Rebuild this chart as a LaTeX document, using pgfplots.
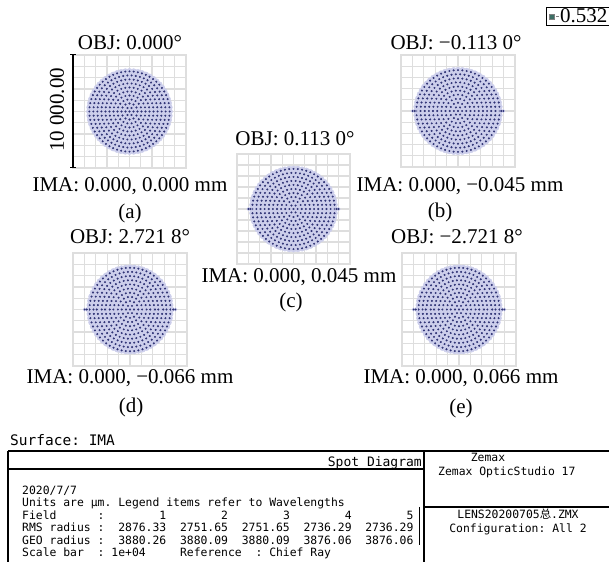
\documentclass[border=0pt]{standalone}
\usepackage{pgfplots}
\pgfplotsset{compat=1.18}
\usepackage{pgfplotstable}
\usepackage{fontspec}
\setmainfont{Liberation Serif}
\setmonofont{DejaVu Sans Mono}
\newfontfamily\cjk{Noto Sans CJK SC}
\definecolor{gridc}{RGB}{222,222,222}
\definecolor{fillc}{RGB}{204,206,235}
\definecolor{dotc}{RGB}{48,52,118}
\definecolor{legc}{RGB}{60,110,100}

% hexapolar ray pattern: ring k, ray index m (angle = m*60/k degrees)
\pgfplotstableread[row sep=\\]{
k m\\
0 0\\
1 0\\ 1 1\\ 1 2\\ 1 3\\ 1 4\\ 1 5\\
2 0\\ 2 1\\ 2 2\\ 2 3\\ 2 4\\ 2 5\\ 2 6\\ 2 7\\ 2 8\\ 2 9\\ 2 10\\ 2 11\\
3 0\\ 3 1\\ 3 2\\ 3 3\\ 3 4\\ 3 5\\ 3 6\\ 3 7\\ 3 8\\ 3 9\\ 3 10\\ 3 11\\ 3 12\\ 3 13\\ 3 14\\ 3 15\\ 3 16\\ 3 17\\
4 0\\ 4 1\\ 4 2\\ 4 3\\ 4 4\\ 4 5\\ 4 6\\ 4 7\\ 4 8\\ 4 9\\ 4 10\\ 4 11\\ 4 12\\ 4 13\\ 4 14\\ 4 15\\ 4 16\\ 4 17\\ 4 18\\ 4 19\\ 4 20\\ 4 21\\ 4 22\\ 4 23\\
5 0\\ 5 1\\ 5 2\\ 5 3\\ 5 4\\ 5 5\\ 5 6\\ 5 7\\ 5 8\\ 5 9\\ 5 10\\ 5 11\\ 5 12\\ 5 13\\ 5 14\\ 5 15\\ 5 16\\ 5 17\\ 5 18\\ 5 19\\ 5 20\\ 5 21\\ 5 22\\ 5 23\\ 5 24\\ 5 25\\ 5 26\\ 5 27\\ 5 28\\ 5 29\\
6 0\\ 6 1\\ 6 2\\ 6 3\\ 6 4\\ 6 5\\ 6 6\\ 6 7\\ 6 8\\ 6 9\\ 6 10\\ 6 11\\ 6 12\\ 6 13\\ 6 14\\ 6 15\\ 6 16\\ 6 17\\ 6 18\\ 6 19\\ 6 20\\ 6 21\\ 6 22\\ 6 23\\ 6 24\\ 6 25\\ 6 26\\ 6 27\\ 6 28\\ 6 29\\ 6 30\\ 6 31\\ 6 32\\ 6 33\\ 6 34\\ 6 35\\
7 0\\ 7 1\\ 7 2\\ 7 3\\ 7 4\\ 7 5\\ 7 6\\ 7 7\\ 7 8\\ 7 9\\ 7 10\\ 7 11\\ 7 12\\ 7 13\\ 7 14\\ 7 15\\ 7 16\\ 7 17\\ 7 18\\ 7 19\\ 7 20\\ 7 21\\ 7 22\\ 7 23\\ 7 24\\ 7 25\\ 7 26\\ 7 27\\ 7 28\\ 7 29\\ 7 30\\ 7 31\\ 7 32\\ 7 33\\ 7 34\\ 7 35\\ 7 36\\ 7 37\\ 7 38\\ 7 39\\ 7 40\\ 7 41\\
8 0\\ 8 1\\ 8 2\\ 8 3\\ 8 4\\ 8 5\\ 8 6\\ 8 7\\ 8 8\\ 8 9\\ 8 10\\ 8 11\\ 8 12\\ 8 13\\ 8 14\\ 8 15\\ 8 16\\ 8 17\\ 8 18\\ 8 19\\ 8 20\\ 8 21\\ 8 22\\ 8 23\\ 8 24\\ 8 25\\ 8 26\\ 8 27\\ 8 28\\ 8 29\\ 8 30\\ 8 31\\ 8 32\\ 8 33\\ 8 34\\ 8 35\\ 8 36\\ 8 37\\ 8 38\\ 8 39\\ 8 40\\ 8 41\\ 8 42\\ 8 43\\ 8 44\\ 8 45\\ 8 46\\ 8 47\\
9 0\\ 9 1\\ 9 2\\ 9 3\\ 9 4\\ 9 5\\ 9 6\\ 9 7\\ 9 8\\ 9 9\\ 9 10\\ 9 11\\ 9 12\\ 9 13\\ 9 14\\ 9 15\\ 9 16\\ 9 17\\ 9 18\\ 9 19\\ 9 20\\ 9 21\\ 9 22\\ 9 23\\ 9 24\\ 9 25\\ 9 26\\ 9 27\\ 9 28\\ 9 29\\ 9 30\\ 9 31\\ 9 32\\ 9 33\\ 9 34\\ 9 35\\ 9 36\\ 9 37\\ 9 38\\ 9 39\\ 9 40\\ 9 41\\ 9 42\\ 9 43\\ 9 44\\ 9 45\\ 9 46\\ 9 47\\ 9 48\\ 9 49\\ 9 50\\ 9 51\\ 9 52\\ 9 53\\
10 0\\ 10 1\\ 10 2\\ 10 3\\ 10 4\\ 10 5\\ 10 6\\ 10 7\\ 10 8\\ 10 9\\ 10 10\\ 10 11\\ 10 12\\ 10 13\\ 10 14\\ 10 15\\ 10 16\\ 10 17\\ 10 18\\ 10 19\\ 10 20\\ 10 21\\ 10 22\\ 10 23\\ 10 24\\ 10 25\\ 10 26\\ 10 27\\ 10 28\\ 10 29\\
10 30\\ 10 31\\ 10 32\\ 10 33\\ 10 34\\ 10 35\\ 10 36\\ 10 37\\ 10 38\\ 10 39\\ 10 40\\ 10 41\\ 10 42\\ 10 43\\ 10 44\\ 10 45\\ 10 46\\ 10 47\\ 10 48\\ 10 49\\ 10 50\\ 10 51\\ 10 52\\ 10 53\\ 10 54\\ 10 55\\ 10 56\\ 10 57\\ 10 58\\ 10 59\\
}\spot

% the slightly protruding middle row seen in the off-axis fields (x in axis units)
\pgfplotstableread[row sep=\\]{
x y\\
-3.98 0\\ -3.8 0\\ -2.92 0\\ -2.19 0\\ -1.46 0\\ -0.73 0\\
0.73 0\\ 1.46 0\\ 2.19 0\\ 2.92 0\\ 3.8 0\\ 3.98 0\\
}\spotmid

\pgfplotsset{
  spotax/.style={scale only axis, xmin=-5, xmax=5, ymin=-5, ymax=5,
    xtick={-5,...,5}, ytick={-5,...,5}, xticklabel=\empty, yticklabel=\empty,
    major tick length=0pt, grid=major,
    grid style={draw=gridc, line width=1.3bp},
    axis line style={draw=gridc, line width=1.3bp}, clip=false, anchor=south west},
  fillm/.style={only marks, mark=*, mark size=3bp, color=fillc, forget plot},
  dotm/.style={only marks, mark=*, mark size=0.8bp, color=dotc, forget plot},
}
\newcommand\spotplots[2]{%
  \addplot[fillm] table[x expr={\thisrow{k}*#1*cos(\thisrow{m}*60/max(\thisrow{k},1))}, y expr={\thisrow{k}*#2*sin(\thisrow{m}*60/max(\thisrow{k},1))}] {\spot};
  \addplot[dotm] table[x expr={\thisrow{k}*#1*cos(\thisrow{m}*60/max(\thisrow{k},1))}, y expr={\thisrow{k}*#2*sin(\thisrow{m}*60/max(\thisrow{k},1))}] {\spot};}
\newcommand\midplots{%
  \addplot[fillm, mark size=1.8bp] table {\spotmid};
  \addplot[dotm] table {\spotmid};}

\begin{document}
\begin{tikzpicture}[
  lab/.style={font=\fontsize{21bp}{25bp}\selectfont, anchor=base, inner sep=0pt},
  mono/.style={font=\ttfamily\fontsize{11.4bp}{13bp}\selectfont, anchor=base west, inner sep=0pt}]
\path[use as bounding box] (0,0) rectangle (609bp,562bp);

% (a)
\begin{axis}[spotax, at={(73bp,394bp)}, width=113bp, height=113bp]
\spotplots{0.355}{0.355}
\end{axis}
% (b)
\begin{axis}[spotax, at={(401bp,395bp)}, width=114bp, height=112bp,
  legend style={at={(1.27,1.4286)}, anchor=north west, draw=black, line width=0.6bp,
    font=\fontsize{21bp}{21bp}\selectfont, inner xsep=3bp, inner ysep=1bp,
    nodes={inner sep=0.5bp}}]
\spotplots{0.365}{0.365}
\midplots
\addlegendimage{legend image code/.code={\draw[fill=legc, draw=gray, line width=0.4bp] (0bp,-2.5bp) rectangle (5bp,2.5bp); \draw[gray, line width=0.6bp] (7bp,0bp) -- (10bp,0bp);}}
\addlegendentry{0.532}
\end{axis}
% (c)
\begin{axis}[spotax, at={(237bp,298bp)}, width=113bp, height=110bp]
\spotplots{0.365}{0.365}
\midplots
\end{axis}
% (d)
\begin{axis}[spotax, at={(73bp,196bp)}, width=114bp, height=113bp]
\spotplots{0.355}{0.37}
\midplots
\end{axis}
% (e)
\begin{axis}[spotax, at={(402bp,196bp)}, width=114bp, height=113bp]
\spotplots{0.355}{0.37}
\midplots
\end{axis}

% scale bar
\draw[line width=1.4bp] (73bp,394bp) -- (73bp,507bp);
\draw[line width=1bp] (70bp,507bp) -- (76bp,507bp);
\draw[line width=1bp] (70bp,394bp) -- (76bp,394bp);
\node[rotate=90, font=\fontsize{21bp}{25bp}\selectfont, inner sep=0pt] at (57bp,452bp) {10 000.00};

% labels
\node[lab] at (130bp,512bp) {OBJ: 0.000°};
\node[lab] at (456bp,512bp) {OBJ: −0.113 0°};
\node[lab] at (295bp,416bp) {OBJ: 0.113 0°};
\node[lab] at (130bp,318bp) {OBJ: 2.721 8°};
\node[lab] at (457bp,318bp) {OBJ: −2.721 8°};
\node[lab] at (130bp,370bp) {IMA: 0.000, 0.000 mm};
\node[lab] at (460bp,370bp) {IMA: 0.000, −0.045 mm};
\node[lab] at (299bp,279bp) {IMA: 0.000, 0.045 mm};
\node[lab] at (130bp,178bp) {IMA: 0.000, −0.066 mm};
\node[lab] at (461bp,178bp) {IMA: 0.000, 0.066 mm};
\node[lab] at (130bp,343.5bp) {(a)};
\node[lab] at (440bp,344.5bp) {(b)};
\node[lab] at (291bp,254.5bp) {(c)};
\node[lab] at (131bp,149.5bp) {(d)};
\node[lab] at (461bp,148.5bp) {(e)};

% table frame
\draw[line width=2bp] (8bp,111bp) -- (615bp,111bp);
\draw[line width=1.5bp] (8bp,93bp) -- (424bp,93bp);
\draw[line width=1.5bp] (424bp,111bp) -- (424bp,-5bp);
\draw[line width=1.5bp] (424bp,55bp) -- (615bp,55bp);
\draw[line width=1.2bp] (8bp,111bp) -- (8bp,-5bp);
\draw[line width=1bp] (419bp,55bp) -- (419bp,17bp);

\node[font=\ttfamily\fontsize{14.5bp}{16bp}\selectfont, anchor=base west, inner sep=0pt] at (10bp,116bp) {Surface: IMA};
\node[font=\ttfamily\fontsize{13bp}{15bp}\selectfont, anchor=base east, inner sep=0pt] at (422bp,95.5bp) {Spot Diagram};
\node[mono, anchor=base] at (488bp,100bp) {Zemax};
\node[mono] at (438bp,86.5bp) {Zemax OpticStudio 17};
\node[mono, anchor=base] at (518bp,43bp) {LENS20200705{\cjk 总}.ZMX};
\node[mono, anchor=base] at (518bp,30bp) {Configuration: All 2};

\node[mono] at (22bp,67.5bp) {2020/7/7};
\node[mono] at (22bp,55.1bp) {Units are µm. Legend items refer to Wavelengths};
\node[mono] at (22bp,42.7bp) {Field~~~~~~:~~~~~~~~1~~~~~~~~2~~~~~~~~3~~~~~~~~4~~~~~~~~5};
\node[mono] at (22bp,30.3bp) {RMS~radius~:~~2876.33~~2751.65~~2751.65~~2736.29~~2736.29};
\node[mono] at (22bp,17.9bp) {GEO~radius~:~~3880.26~~3880.09~~3880.09~~3876.06~~3876.06};
\node[mono] at (22bp,5.5bp) {Scale~bar~~:~1e+04~~~~~Reference~~:~Chief~Ray};
\end{tikzpicture}
\end{document}
